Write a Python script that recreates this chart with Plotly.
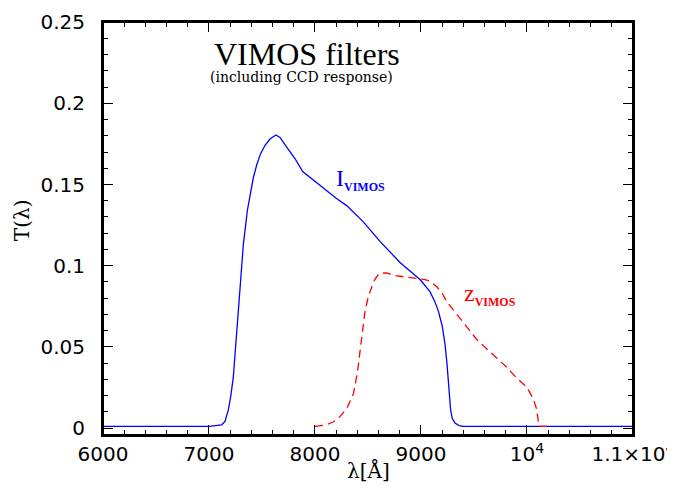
import plotly.graph_objects as go

# I_VIMOS filter transmission (solid blue)
i_lambda = [6000, 6500, 7000, 7120, 7151, 7182, 7204, 7229, 7248, 7267, 7286, 7308,
            7324, 7340, 7362, 7387, 7418, 7450, 7487, 7528, 7575, 7632, 7670, 7733,
            7811, 7884, 8047, 8200, 8299, 8456, 8613, 8802, 8991, 9085, 9130, 9164,
            9200, 9226, 9245, 9258, 9270, 9280, 9295, 9321, 9360, 9400, 9600, 10000,
            10500, 11000]
i_trans = [0.001, 0.001, 0.001, 0.002, 0.004, 0.011, 0.019, 0.031, 0.046, 0.062, 0.080, 0.099,
           0.113, 0.123, 0.134, 0.143, 0.154, 0.162, 0.169, 0.174, 0.178, 0.1805, 0.179, 0.173,
           0.166, 0.158, 0.1496, 0.1415, 0.137, 0.127, 0.115, 0.102, 0.0915, 0.084, 0.078, 0.072,
           0.063, 0.052, 0.040, 0.031, 0.020, 0.011, 0.006, 0.003, 0.0015, 0.001, 0.001, 0.001,
           0.001, 0.001]

# z_VIMOS filter transmission (dashed red)
z_lambda = [8000, 8110, 8180, 8236, 8300, 8362, 8400, 8425, 8450, 8472, 8500, 8519,
            8560, 8597, 8640, 8676, 8740, 8802, 8880, 8959, 9030, 9085, 9150, 9200,
            9242, 9290, 9336, 9400, 9460, 9520, 9600, 9700, 9800, 9900, 10000, 10060,
            10094, 10105, 10113, 10190]
z_trans = [0.001, 0.002, 0.004, 0.007, 0.012, 0.021, 0.034, 0.048, 0.062, 0.072, 0.080, 0.084,
           0.091, 0.0945, 0.0955, 0.0955, 0.094, 0.0935, 0.093, 0.0925, 0.0915, 0.0905, 0.087, 0.083,
           0.078, 0.074, 0.070, 0.065, 0.060, 0.055, 0.050, 0.044, 0.038, 0.031, 0.025, 0.018,
           0.011, 0.005, 0.001, 0.001]

x_label_alias = {"10000": "10<sup>4</sup>", "11000": "1.1×10<sup>4</sup>"}

fig = go.Figure()
fig.add_trace(go.Scatter(x=i_lambda, y=i_trans, mode="lines",
                         line=dict(color="#0000ff", width=1.3), showlegend=False))
fig.add_trace(go.Scatter(x=z_lambda, y=z_trans, mode="lines",
                         line=dict(color="#ff0000", width=1.3, dash="8px,5px"), showlegend=False))

tickfont = dict(family="DejaVu Sans", size=20, color="black")
axis_common = dict(
    showline=True, linewidth=2, linecolor="black", mirror="allticks",
    ticks="inside", ticklen=10, tickwidth=1.3, tickcolor="black",
    showgrid=False, zeroline=False, tickfont=tickfont, automargin=False,
    ticklabeloverflow="allow",
)

fig.update_xaxes(range=[6000, 11000.5], tickmode="linear", tick0=6000, dtick=1000,
                 tickformat="d", labelalias=x_label_alias,
                 minor=dict(dtick=200, tick0=6000, ticks="inside", ticklen=5,
                            tickcolor="black", tickwidth=1.3),
                 **axis_common)
fig.update_yaxes(range=[-0.0043, 0.2501], tickmode="linear", tick0=0, dtick=0.05,
                 minor=dict(dtick=0.01, tick0=0, ticks="inside", ticklen=5,
                            tickcolor="black", tickwidth=1.3),
                 ticklabelstandoff=12,
                 **axis_common)

# frame around the plotting area (paper coordinates)
fig.add_shape(type="rect", xref="paper", yref="paper", x0=0, x1=1, y0=0, y1=1,
              line=dict(color="black", width=2), fillcolor="rgba(0,0,0,0)", layer="above")

# axis titles
fig.add_annotation(x=0.5, y=-0.086, xref="paper", yref="paper", xanchor="center", yanchor="middle",
                   text="λ[Å]", showarrow=False,
                   font=dict(family="DejaVu Serif", size=20, color="black"))
fig.add_annotation(x=-0.153, y=0.52, xref="paper", yref="paper", xanchor="center", yanchor="middle",
                   text="T(λ)", textangle=-90, showarrow=False,
                   font=dict(family="DejaVu Serif", size=20, color="black"))

fig.add_annotation(x=7925, y=0.2304, xref="x", yref="y", text="VIMOS filters",
                   showarrow=False, font=dict(family="Liberation Serif", size=32, color="black"))
fig.add_annotation(x=7877, y=0.2165, xref="x", yref="y", text="(including CCD response)",
                   showarrow=False, font=dict(family="DejaVu Serif", size=14, color="black"))
fig.add_annotation(x=8425, y=0.153, xref="x", yref="y",
                   text="I<sub><b><span style='font-size:12px'>VIMOS</span></b></sub>",
                   showarrow=False, font=dict(family="Liberation Serif", size=24, color="#0000ff"))
fig.add_annotation(x=9651, y=0.082, xref="x", yref="y",
                   text="z<sub><b><span style='font-size:12px'>VIMOS</span></b></sub>",
                   showarrow=False, font=dict(family="Liberation Serif", size=24, color="#ff0000"))

# The page body adds an 8px margin, so the figure is sized to fit the window.
fig.update_layout(
    width=667, height=481,
    margin=dict(l=95, r=42, t=14, b=54),
    paper_bgcolor="white", plot_bgcolor="white",
    showlegend=False,
)

fig.write_html("out.html")
